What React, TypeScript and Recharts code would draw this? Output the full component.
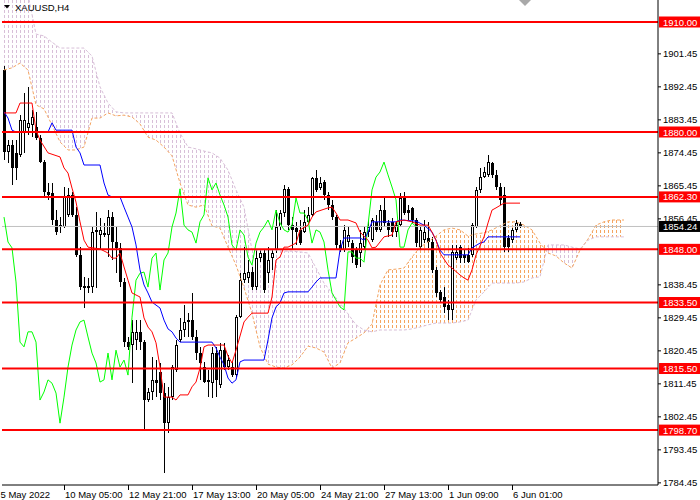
import React from 'react';
import { ComposedChart, Bar, Line, Area, XAxis, YAxis, ReferenceLine } from 'recharts';

const FONT = "'Liberation Sans', Arial, sans-serif";
const SLOTS = 164;

const opens = [
  1896.9,1874.5,1876.4,1874.3,1873.7,1880.0,1881.1,1881.9,1881.4,1878.4,
  1871.8,1863.6,1863.4,1856.0,1854.1,1854.1,1857.4,1862.8,1857.4,1846.5,
  1837.5,1837.5,1837.7,1852.7,1851.9,1851.9,1851.9,1856.8,1850.0,1848.4,
  1839.1,1822.7,1821.9,1823.3,1825.5,1822.7,1806.9,1809.1,1812.4,1814.5,
  1808.8,1800.6,1807.7,1815.1,1823.3,1826.0,1828.2,1828.7,1824.1,1819.7,
  1815.9,1811.8,1811.5,1819.7,1811.0,1820.5,1815.9,1815.9,1813.7,1829.5,
  1839.6,1840.2,1841.8,1837.7,1845.6,1847.0,1841.5,1845.6,1847.8,1854.1,
  1857.9,1864.5,1854.6,1853.8,1853.3,1852.7,1855.5,1857.4,1867.5,1864.7,
  1866.4,1862.8,1860.1,1856.8,1849.2,1847.8,1850.0,1849.7,1847.8,1847.0,
  1848.6,1852.7,1850.5,1855.5,1853.3,1858.7,1855.2,1855.5,1852.7,1854.6,
  1862.0,1858.7,1859.3,1856.0,1848.6,1850.5,1851.1,1850.0,1842.4,1836.4,
  1835.0,1832.8,1831.5,1845.6,1848.6,1846.5,1846.5,1846.5,1854.1,1864.2,
  1867.7,1868.3,1871.5,1868.3,1865.0,1862.8,1851.1,1850.5,1853.3,1854.9,
];
const highs = [
  1898.0,1877.8,1877.8,1877.8,1884.6,1890.6,1892.3,1886.0,1885.5,1879.2,
  1872.4,1866.1,1866.1,1858.7,1856.8,1865.0,1864.7,1863.6,1859.5,1848.6,
  1840.5,1840.2,1854.1,1858.2,1856.5,1855.2,1858.7,1858.2,1854.1,1849.7,
  1840.2,1824.1,1828.7,1828.7,1828.7,1823.3,1810.2,1818.6,1817.8,1817.0,
  1811.5,1810.5,1816.5,1823.3,1829.3,1832.8,1830.6,1836.1,1826.0,1821.4,
  1817.3,1815.1,1821.4,1821.4,1822.5,1822.5,1819.2,1817.3,1830.1,1841.5,
  1848.6,1845.1,1843.2,1847.8,1847.8,1847.8,1848.6,1847.8,1858.7,1858.7,
  1865.5,1865.0,1856.8,1855.5,1856.0,1858.7,1859.5,1867.7,1869.6,1867.7,
  1866.9,1863.6,1861.5,1857.4,1850.5,1854.6,1854.1,1850.5,1848.6,1853.3,
  1854.1,1856.0,1856.5,1857.4,1860.1,1862.0,1856.0,1856.5,1855.5,1863.4,
  1863.6,1860.1,1859.5,1856.5,1854.1,1856.0,1855.5,1851.4,1843.2,1836.9,
  1837.7,1834.2,1849.2,1849.2,1849.2,1847.8,1848.4,1855.2,1865.0,1870.2,
  1870.5,1873.7,1871.8,1869.6,1866.1,1865.0,1851.9,1853.8,1856.0,1855.5,
];
const lows = [
  1872.4,1871.5,1865.5,1866.9,1873.2,1874.3,1879.2,1878.6,1877.8,1871.5,
  1862.3,1861.5,1854.6,1851.9,1852.5,1853.8,1856.8,1856.8,1845.9,1836.9,
  1832.0,1836.1,1836.1,1837.5,1847.8,1851.4,1845.9,1845.1,1841.5,1837.7,
  1821.4,1820.5,1811.5,1820.5,1820.5,1798.7,1806.4,1806.9,1807.7,1806.9,
  1787.0,1797.9,1806.9,1814.5,1822.7,1824.1,1824.1,1823.3,1817.8,1812.4,
  1811.5,1807.7,1807.5,1807.7,1810.2,1815.1,1815.1,1813.2,1813.2,1829.3,
  1838.8,1838.8,1836.9,1836.9,1844.5,1836.1,1838.8,1842.4,1847.0,1853.3,
  1856.8,1853.3,1847.8,1849.2,1849.2,1852.5,1855.2,1856.8,1863.6,1864.2,
  1861.5,1858.7,1856.0,1847.8,1847.3,1847.3,1848.6,1844.3,1842.9,1843.2,
  1847.8,1851.4,1850.0,1852.7,1852.7,1854.1,1851.4,1851.4,1851.4,1854.1,
  1857.4,1856.0,1855.2,1848.6,1847.8,1849.7,1848.4,1841.5,1835.0,1833.4,
  1830.6,1828.7,1828.7,1845.1,1844.3,1844.3,1844.3,1845.9,1853.8,1863.4,
  1867.5,1867.7,1867.5,1864.2,1860.1,1847.3,1847.3,1849.7,1852.7,1853.8,
];
const closes = [
  1874.5,1876.4,1870.2,1870.2,1883.3,1883.3,1882.5,1884.1,1878.4,1871.8,
  1863.6,1862.8,1856.0,1852.7,1854.6,1862.3,1862.8,1857.4,1846.5,1837.7,
  1838.0,1838.0,1852.7,1853.3,1853.3,1852.5,1856.8,1850.0,1848.4,1839.1,
  1822.7,1821.4,1825.5,1825.5,1822.7,1806.9,1809.1,1812.4,1811.5,1808.8,
  1800.6,1807.7,1815.9,1821.9,1826.0,1828.2,1828.7,1824.1,1819.7,1817.0,
  1811.8,1812.4,1819.7,1812.4,1820.5,1815.9,1817.8,1813.7,1829.5,1839.6,
  1841.5,1841.8,1837.7,1845.6,1847.0,1836.9,1845.1,1847.0,1854.1,1857.9,
  1864.5,1854.6,1853.3,1852.7,1849.7,1855.5,1857.4,1867.5,1864.2,1866.1,
  1862.8,1860.1,1856.8,1849.2,1847.8,1853.3,1851.9,1845.9,1843.7,1849.7,
  1852.7,1854.1,1856.0,1853.3,1858.7,1855.2,1853.3,1852.7,1854.6,1862.0,
  1857.9,1857.9,1856.0,1849.7,1853.3,1852.7,1850.0,1842.4,1836.1,1834.2,
  1832.3,1831.5,1847.3,1847.3,1845.6,1845.6,1844.5,1854.6,1864.2,1867.7,
  1869.1,1871.8,1868.3,1865.0,1861.5,1848.6,1848.6,1853.3,1855.2,1854.24,
];

// Tenkan-sen (red) and Kijun-sen (blue): [bar, price]
const tenkanPts: [number, number][] = [
  [0,1885.2],[3,1885.2],[4,1887.9],[7,1887.9],[8,1880.5],[9,1877.8],[11,1874.3],[14,1873.2],[15,1870.2],[16,1868.8],
  [17,1864.7],[18,1860.9],[19,1855.5],[20,1850.5],[21,1848.6],[24,1848.1],[26,1847.0],[27,1845.6],[28,1845.6],[29,1847.0],
  [30,1843.2],[31,1839.6],[32,1836.1],[34,1835.0],[35,1829.3],[36,1826.8],[37,1825.5],[38,1822.5],[39,1815.9],[40,1807.7],
  [42,1807.7],[43,1806.9],[44,1808.3],[46,1808.3],[47,1810.5],[48,1811.8],[49,1815.6],[50,1821.4],[51,1821.9],[55,1821.9],
  [56,1818.9],[57,1817.0],[58,1820.5],[60,1828.2],[61,1829.5],[62,1830.6],[66,1830.6],[67,1835.0],[68,1845.1],[69,1845.9],
  [70,1848.6],[71,1848.6],[73,1849.7],[74,1853.3],[76,1854.6],[77,1856.8],[78,1858.2],[81,1859.3],[82,1859.5],[83,1857.9],
  [84,1856.0],[86,1856.0],[88,1855.2],[89,1852.7],[91,1850.5],[92,1848.4],[93,1848.6],[95,1851.4],[97,1851.9],[98,1855.5],
  [100,1856.0],[102,1855.5],[104,1854.6],[106,1854.6],[107,1852.7],[108,1850.5],[109,1847.0],[111,1843.7],[112,1842.9],[114,1841.0],
  [115,1840.2],[116,1839.6],[117,1842.4],[118,1846.5],[120,1851.4],[121,1855.2],[122,1858.7],[123,1859.3],[125,1860.6],[129,1860.6],
];
const kijunPts: [number, number][] = [
  [0,1885.5],[1,1883.8],[2,1880.5],[3,1880.0],[11,1880.0],[12,1882.5],[13,1880.5],[17,1880.5],[18,1875.9],[19,1874.3],
  [20,1871.0],[24,1871.0],[25,1866.1],[26,1862.8],[27,1862.3],[29,1862.3],[30,1859.5],[31,1856.8],[32,1854.1],[33,1849.2],
  [34,1842.4],[35,1838.3],[36,1836.1],[37,1833.6],[38,1832.8],[39,1832.0],[40,1828.7],[41,1826.3],[42,1825.5],[43,1823.8],
  [44,1822.7],[52,1822.7],[53,1821.1],[54,1818.6],[55,1816.5],[56,1812.9],[57,1811.5],[58,1812.4],[59,1817.3],[60,1817.8],
  [65,1817.8],[66,1823.3],[67,1829.3],[68,1832.3],[69,1833.4],[70,1836.1],[71,1836.4],[76,1836.4],[77,1837.7],[78,1839.1],
  [79,1840.2],[83,1840.2],[84,1847.8],[85,1851.1],[89,1851.1],[90,1850.5],[91,1852.7],[92,1855.5],[98,1855.5],[99,1856.0],
  [103,1855.7],[105,1854.6],[107,1852.7],[108,1850.5],[109,1847.8],[110,1846.5],[116,1846.5],[117,1848.4],[119,1849.7],[120,1850.0],
  [121,1851.4],[129,1851.4],
];

// Ichimoku cloud (Senkou Span A / B), read every second bar
const cloudIdx = [
  0,2,4,6,8,10,12,14,16,18,20,22,24,26,28,30,32,34,36,38,
  40,42,44,46,48,50,52,54,56,58,60,62,64,66,68,70,72,74,76,78,
  80,82,84,86,88,90,92,94,96,98,100,102,104,106,108,110,112,114,116,118,
  120,122,124,126,128,130,132,134,136,138,140,142,144,146,148,150,152,154,155,
];
const spanA = [
  1896.9,1897.5,1898.8,1896.9,1887.4,1886.3,1881.9,1877.3,1875.1,1875.1,
  1875.9,1883.8,1883.8,1885.2,1884.4,1884.6,1884.1,1882.2,1878.6,1877.8,
  1875.9,1873.5,1866.1,1860.1,1859.5,1860.1,1854.4,1853.8,1848.6,1843.7,
  1837.5,1830.6,1821.4,1816.7,1815.9,1815.6,1816.5,1818.6,1821.6,1821.1,
  1820.0,1815.6,1817.0,1822.5,1823.8,1825.2,1827.6,1838.3,1842.4,1842.6,
  1842.9,1845.9,1848.6,1850.0,1851.6,1853.3,1853.8,1853.3,1851.6,1852.2,
  1852.5,1853.3,1854.4,1855.5,1855.5,1854.6,1853.3,1849.7,1847.0,1846.2,
  1844.3,1842.9,1847.8,1850.8,1854.6,1855.5,1856.0,1856.0,1856.0,
];
const spanB = [
  1918.7,1918.7,1918.7,1917.4,1906.7,1906.2,1904.5,1902.9,1902.9,1902.9,
  1902.9,1900.7,1892.3,1887.9,1885.5,1885.2,1885.2,1885.2,1885.2,1885.2,
  1885.2,1885.2,1879.7,1875.9,1875.4,1874.8,1874.3,1872.9,1869.6,1864.2,
  1859.5,1847.8,1847.8,1847.8,1847.8,1847.5,1847.5,1847.3,1847.0,1842.9,
  1838.8,1836.1,1833.4,1830.4,1827.4,1826.0,1825.5,1826.0,1826.0,1826.0,
  1826.0,1826.3,1826.8,1827.4,1827.9,1827.9,1827.9,1828.2,1828.7,1834.2,
  1836.4,1838.8,1838.8,1838.8,1838.8,1839.1,1840.2,1840.5,1849.2,1849.2,
  1849.2,1848.6,1848.1,1850.5,1851.4,1851.4,1851.4,1851.4,1851.4,
];

const CHIKOU_SHIFT = 26;
const levelPrices = [1910.0, 1880.0, 1862.3, 1848.0, 1833.5, 1815.5, 1798.7];
const lastPrice = 1854.24;
const yTicks = [1901.45,1892.45,1883.45,1874.45,1865.45,1856.45,1838.45,1829.45,1820.45,1811.45,1802.45,1793.45,1784.45];
const xTickIdx = [0, 15, 31, 47, 63, 79, 95, 111, 127];
const xTickLabels = ['5 May 2022','10 May 05:00','12 May 21:00','17 May 13:00','20 May 05:00','24 May 21:00','27 May 13:00','1 Jun 09:00','6 Jun 01:00'];
const Y_DOMAIN: [number, number] = [1783.73, 1916.0];

// ---- build table ----
const rows: any[] = Array.from({ length: SLOTS }, (_, i) => ({ i }));
opens.forEach((o, k) => {
  rows[k].open = o; rows[k].high = highs[k]; rows[k].low = lows[k]; rows[k].close = closes[k];
  rows[k].range = [lows[k], highs[k]];
  if (k - CHIKOU_SHIFT >= 0) rows[k - CHIKOU_SHIFT].chikou = closes[k];
});
tenkanPts.forEach(([k, v]) => { rows[k].tenkan = v; });
kijunPts.forEach(([k, v]) => { rows[k].kijun = v; });

type Seg = { key: string; bull: boolean };
const segs: Seg[] = [];
let cur: Seg | null = null;
cloudIdx.forEach((k, s) => {
  const a = spanA[s], b = spanB[s];
  rows[k].spanA = a; rows[k].spanB = b;
  const bull = a >= b;
  const rng = [Math.min(a, b), Math.max(a, b)];
  if (cur && cur.bull !== bull) {
    rows[k][cur.key] = rng; // bridge into the crossing sample
    cur = null;
  }
  if (!cur) { cur = { key: `cloud${segs.length}`, bull }; segs.push(cur); }
  rows[k][cur.key] = rng;
});

function Candle(props: any) {
  const { x, y, width, height, payload } = props;
  if (!payload || payload.high == null) return null;
  const top = Math.min(y, y + height);
  const h = Math.abs(height);
  const { open, high, low, close } = payload;
  const r = h / (high - low);
  const py = (p: number) => top + (high - p) * r;
  const cx = Math.floor(x + width / 2) + 0.5;
  const yo = py(open), yc = py(close);
  const bTop = Math.round(Math.min(yo, yc));
  const bBot = Math.round(Math.max(yo, yc));
  const bull = close >= open;
  let body;
  if (bBot - bTop < 2) {
    body = <rect x={cx - 1.5} y={bTop} width={3} height={1} fill="#000" />;
  } else if (bull) {
    body = <rect x={cx - 1} y={bTop + 0.5} width={2} height={bBot - bTop - 1} fill="#fff" stroke="#000" strokeWidth={1} />;
  } else {
    body = <rect x={cx - 1.5} y={bTop} width={3} height={bBot - bTop} fill="#000" />;
  }
  return (
    <g>
      <line x1={cx} x2={cx} y1={Math.round(top)} y2={Math.round(top + h)} stroke="#000" strokeWidth={1} />
      {body}
    </g>
  );
}

function YTick(props: any) {
  const { x, y, payload } = props;
  const v = payload.value as number;
  const label = v.toFixed(2);
  const boxed = levelPrices.includes(v) || v === lastPrice;
  if (boxed) {
    return (
      <g>
        <rect x={x + 1} y={y - 5.5} width={44} height={11} fill={v === lastPrice ? '#000' : '#FF0000'} />
        <text x={x + 5} y={y + 3.5} fill="#fff" fontSize={9.5} fontFamily={FONT}>{label}</text>
      </g>
    );
  }
  return (
    <g>
      <line x1={x} x2={x + 3} y1={y + 0.5} y2={y + 0.5} stroke="#000" />
      <text x={x + 5} y={y + 3.5} fill="#000" fontSize={9.5} fontFamily={FONT}>{label}</text>
    </g>
  );
}

function XTick(props: any) {
  const { x, y, payload } = props;
  const i = payload.value as number;
  const pos = xTickIdx.indexOf(i);
  if (pos < 0) return null;
  const first = pos === 0;
  const tx = first ? 0 : Math.round(x);
  return (
    <g>
      {!first && <line x1={tx + 0.5} x2={tx + 0.5} y1={y} y2={y + 5} stroke="#000" />}
      <text x={first ? 0.5 : tx + 1} y={y + 12.5} fill="#000" fontSize={9.5} fontFamily={FONT}>{xTickLabels[pos]}</text>
    </g>
  );
}

export default function App() {
  return (
    <div style={{ position: 'absolute', left: 0, top: 0, width: 700, height: 500, background: '#fff', overflow: 'hidden' }}>
      <ComposedChart width={700} height={500} data={rows} margin={{ top: 0, right: 0, bottom: 0, left: 2 }} barCategoryGap={0}>
        <XAxis dataKey="i" type="category" ticks={xTickIdx} interval={0} tick={<XTick />} tickLine={false}
          tickSize={0} tickMargin={0} height={15} axisLine={{ stroke: '#000' }} />
        <YAxis orientation="right" type="number" domain={Y_DOMAIN} allowDataOverflow
          ticks={[...yTicks, ...levelPrices, lastPrice]} interval={0} tick={<YTick />} tickLine={false}
          tickSize={0} tickMargin={0} width={42} axisLine={{ stroke: '#000' }} />
        {segs.map((s) => (
          <Area key={s.key} dataKey={s.key} type="linear" connectNulls stroke="none"
            fill={`url(#${s.bull ? 'hatchOrange' : 'hatchThistle'})`} fillOpacity={1}
            dot={false} activeDot={false} isAnimationActive={false} />
        ))}
        <Line dataKey="spanA" type="linear" connectNulls stroke="#F4A460" strokeWidth={1} strokeDasharray="3 2" dot={false} activeDot={false} isAnimationActive={false} />
        <Line dataKey="spanB" type="linear" connectNulls stroke="#D8BFD8" strokeWidth={1} strokeDasharray="3 2" dot={false} activeDot={false} isAnimationActive={false} />
        <ReferenceLine y={lastPrice} stroke="#C0C0C0" strokeWidth={1} />
        <Bar dataKey="range" shape={(p: any) => <Candle {...p} />} isAnimationActive={false} />
        <Line dataKey="chikou" type="linear" stroke="#00FF00" strokeWidth={1} dot={false} activeDot={false} isAnimationActive={false} />
        <Line dataKey="kijun" type="linear" connectNulls stroke="#0000FF" strokeWidth={1} dot={false} activeDot={false} isAnimationActive={false} />
        <Line dataKey="tenkan" type="linear" connectNulls stroke="#FF0000" strokeWidth={1} dot={false} activeDot={false} isAnimationActive={false} />
        {levelPrices.map((v) => (
          <ReferenceLine key={v} y={v} stroke="#FF0000" strokeWidth={2} />
        ))}
      </ComposedChart>
      <svg width={700} height={500} style={{ position: 'absolute', left: 0, top: 0, pointerEvents: 'none' }}>
        <defs>
          <pattern id="hatchOrange" patternUnits="userSpaceOnUse" x={0} y={0} width={4} height={5}>
            <rect x={0} y={0} width={1} height={3} fill="#F4A460" />
          </pattern>
          <pattern id="hatchThistle" patternUnits="userSpaceOnUse" x={0} y={0} width={4} height={5}>
            <rect x={0} y={0} width={1} height={3} fill="#D8BFD8" />
          </pattern>
        </defs>
        <polygon points="4,5 10,5 7,8.5" fill="#000" />
        <text x={15} y={10.5} fontSize={9.5} fontFamily={FONT} fill="#000">XAUUSD,H4</text>
        <polygon points="519,0 531,0 525,6" fill="#A9A9A9" />
      </svg>
    </div>
  );
}
